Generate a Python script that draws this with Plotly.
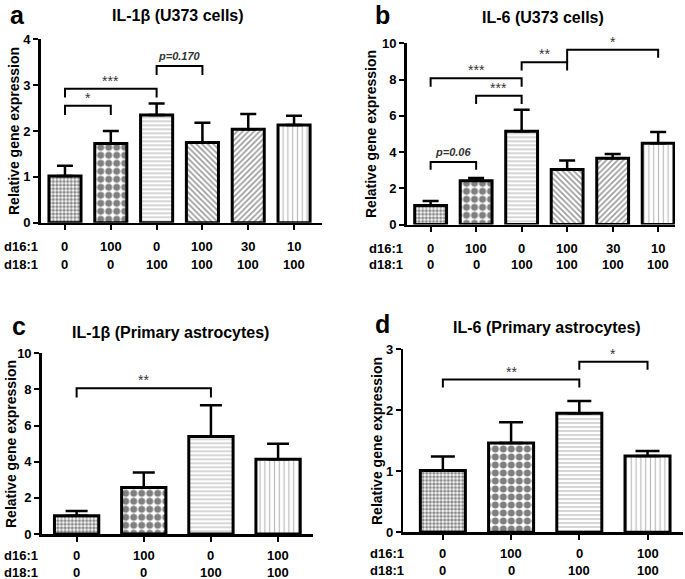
import plotly.graph_objects as go

W, H = 685, 579

# ---------------- data ----------------
d16_u373 = ["0", "100", "0", "100", "30", "10"]
d18_u373 = ["0", "0", "100", "100", "100", "100"]
d16_astro = ["0", "100", "0", "100"]
d18_astro = ["0", "0", "100", "100"]

il1b_u373_mean = [1.02, 1.73, 2.35, 1.75, 2.04, 2.13]
il1b_u373_sem = [0.22, 0.27, 0.25, 0.43, 0.33, 0.20]
il6_u373_mean = [1.05, 2.42, 5.15, 3.03, 3.65, 4.48]
il6_u373_sem = [0.25, 0.15, 1.18, 0.50, 0.24, 0.63]
il1b_astro_mean = [1.01, 2.58, 5.40, 4.13]
il1b_astro_sem = [0.26, 0.83, 1.72, 0.86]
il6_astro_mean = [1.01, 1.46, 1.95, 1.25]
il6_astro_sem = [0.23, 0.34, 0.20, 0.08]

# significance brackets: (i, j, y_top, y_leg_i, y_leg_j, label)
sig_a = [(0, 1, 2.55, 2.35, 2.35, "*"), (0, 2, 2.92, 2.73, 2.73, "***"),
         (2, 3, 3.42, 3.22, 3.22, "p=0.170")]
sig_b = [(0, 1, 3.45, 3.02, 3.02, "p=0.06"), (1, 2, 7.1, 6.65, 6.65, "***"),
         (0, 2, 8.07, 7.6, 7.6, "***"), (2, 3, 8.95, 8.5, 8.5, "**"),
         (3, 5, 9.65, 8.95, 9.2, "*")]
sig_c = [(0, 2, 8.06, 7.56, 7.56, "**")]
sig_d = [(0, 2, 2.5, 2.37, 2.37, "**"), (2, 3, 2.79, 2.66, 2.66, "*")]

# ---------------- styles ----------------
FONT = "Liberation Sans, Arial, sans-serif"
pat_u373 = dict(shape=[".", ".", "-", "\\", "/", "|"],
                size=[3.6, 8, 4, 4, 4, 4.8],
                solidity=[0.6, 0.6, 0.3, 0.4, 0.4, 0.25],
                fgcolor=["#111", "#000", "#777", "#333", "#333", "#777"],
                bgcolor="white")
pat_astro = dict(shape=[".", ".", "-", "|"],
                 size=[3.6, 8, 4, 4.8],
                 solidity=[0.6, 0.6, 0.3, 0.25],
                 fgcolor=["#111", "#000", "#777", "#777"],
                 bgcolor="white")


def px(x):
    return x / W


def py(y):
    return 1 - y / H


panels = [
    dict(ax="", mean=il1b_u373_mean, sem=il1b_u373_sem, d16=d16_u373, d18=d18_u373,
         pat=pat_u373, sig=sig_a, xd=[40.7, 322], yd=[39.3, 222.7], xr=[-0.53, 5.61],
         yr=[0, 4], dt=1, cap=8, gap=0.3,
         letter=("a", 17, 15), title=("IL-1β (U373 cells)", 178, 16), ytitle=(14, 131),
         rows=(2, 246.5, 264)),
    dict(ax="2", mean=il6_u373_mean, sem=il6_u373_sem, d16=d16_u373, d18=d18_u373,
         pat=pat_u373, sig=sig_b, xd=[406.5, 675], yd=[43.3, 224.5], xr=[-0.53, 5.37],
         yr=[0, 10], dt=2, cap=8, gap=0.3,
         letter=("b", 382, 15), title=("IL-6 (U373 cells)", 543, 17), ytitle=(371, 134),
         rows=(367, 248, 265)),
    dict(ax="3", mean=il1b_astro_mean, sem=il1b_astro_sem, d16=d16_astro, d18=d18_astro,
         pat=pat_astro, sig=sig_c, xd=[41.7, 313], yd=[353.3, 534], xr=[-0.52, 3.52],
         yr=[0, 10], dt=2, cap=11, gap=0.34,
         letter=("c", 19, 326), title=("IL-1β (Primary astrocytes)", 170, 332), ytitle=(11, 444),
         rows=(2, 555, 572)),
    dict(ax="4", mean=il6_astro_mean, sem=il6_astro_sem, d16=d16_astro, d18=d18_astro,
         pat=pat_astro, sig=sig_d, xd=[403.3, 683], yd=[349, 532.3], xr=[-0.58, 3.52],
         yr=[0, 3], dt=1, cap=12, gap=0.34,
         letter=("d", 382, 324), title=("IL-6 (Primary astrocytes)", 547, 327), ytitle=(377, 441),
         rows=(368, 553, 570)),
]

fig = go.Figure()
annotations = []
layout = {}

for p in panels:
    xa, ya = "x" + p["ax"], "y" + p["ax"]
    n = len(p["mean"])
    cats = list(range(n))
    # patterned fill
    fig.add_trace(go.Bar(
        x=cats, y=p["mean"], xaxis=xa, yaxis=ya, width=1 - p["gap"],
        marker=dict(color="white", line=dict(color="black", width=0), pattern=p["pat"]),
        showlegend=False, hoverinfo="skip"))
    # outline + error bars
    fig.add_trace(go.Bar(
        x=cats, y=p["mean"], xaxis=xa, yaxis=ya, width=1 - p["gap"],
        marker=dict(color="rgba(0,0,0,0)", line=dict(color="black", width=3)),
        error_y=dict(type="data", array=p["sem"], arrayminus=[0] * n, symmetric=False,
                     color="black", thickness=2.5, width=p["cap"]),
        showlegend=False, hoverinfo="skip"))
    # brackets
    for (i, j, yt, yl, yr_, lab) in p["sig"]:
        fig.add_trace(go.Scatter(
            x=[i, i, j, j], y=[yl, yt, yt, yr_], xaxis=xa, yaxis=ya, mode="lines",
            line=dict(color="black", width=2), showlegend=False, hoverinfo="skip"))
        is_p = lab.startswith("p")
        annotations.append(dict(
            x=(i + j) / 2, y=yt, xref=xa, yref=ya, text=lab, showarrow=False,
            yanchor="bottom", yshift=2 if is_p else -2,
            font=dict(family=FONT, size=11 if is_p else 14, color="#333",
                      weight="bold" if is_p else "normal",
                      style="italic" if is_p else "normal")))
    # category rows
    for k in range(n):
        annotations.append(dict(x=k, y=py(p["rows"][1]), xref=xa, yref="paper",
                                text=p["d16"][k], showarrow=False, yanchor="middle",
                                font=dict(family=FONT, size=13, color="black", weight="bold")))
        annotations.append(dict(x=k, y=py(p["rows"][2]), xref=xa, yref="paper",
                                text=p["d18"][k], showarrow=False, yanchor="middle",
                                font=dict(family=FONT, size=13, color="black", weight="bold")))
    for txt, yy in (("d16:1", p["rows"][1]), ("d18:1", p["rows"][2])):
        annotations.append(dict(x=px(p["rows"][0]), y=py(yy), xref="paper", yref="paper",
                                text=txt, showarrow=False, xanchor="left", yanchor="middle",
                                font=dict(family=FONT, size=13, color="black", weight="bold")))
    # letter, title, y title
    L, lx, ly = p["letter"]
    annotations.append(dict(x=px(lx), y=py(ly), xref="paper", yref="paper", text=L,
                            showarrow=False, xanchor="center", yanchor="middle",
                            font=dict(family=FONT, size=25, color="black", weight="bold")))
    T, tx, ty = p["title"]
    annotations.append(dict(x=px(tx), y=py(ty), xref="paper", yref="paper", text=T,
                            showarrow=False, xanchor="center", yanchor="middle",
                            font=dict(family=FONT, size=16, color="black", weight="bold")))
    annotations.append(dict(x=px(p["ytitle"][0]), y=py(p["ytitle"][1]), xref="paper",
                            yref="paper", text="Relative gene expression", textangle=-90,
                            showarrow=False, xanchor="center", yanchor="middle",
                            font=dict(family=FONT, size=14, color="black", weight="bold")))

    ax_common = dict(showline=True, linewidth=2.5, linecolor="black", showgrid=False,
                     zeroline=False, ticks="outside", ticklen=5, tickwidth=2,
                     tickcolor="black", fixedrange=True, automargin=False)
    layout["xaxis" + p["ax"]] = dict(
        domain=[px(p["xd"][0]), px(p["xd"][1])], range=p["xr"], anchor=ya,
        tickvals=cats, showticklabels=False, **ax_common)
    layout["yaxis" + p["ax"]] = dict(
        domain=[py(p["yd"][1]), py(p["yd"][0])], range=p["yr"], anchor=xa,
        dtick=p["dt"], tick0=0,
        tickfont=dict(family=FONT, size=13, color="black", weight="bold"), **ax_common)

fig.update_layout(
    width=W, height=H, margin=dict(l=0, r=0, t=0, b=0, autoexpand=False),
    paper_bgcolor="white", plot_bgcolor="white", showlegend=False,
    hovermode=False, annotations=annotations, barmode="overlay", **layout)

fig.write_html("out.html", config={"displayModeBar": False, "staticPlot": True},
               post_script="document.body.style.margin='0px';"
               "document.body.style.padding='0px';"
               "document.documentElement.style.overflow='hidden';")
